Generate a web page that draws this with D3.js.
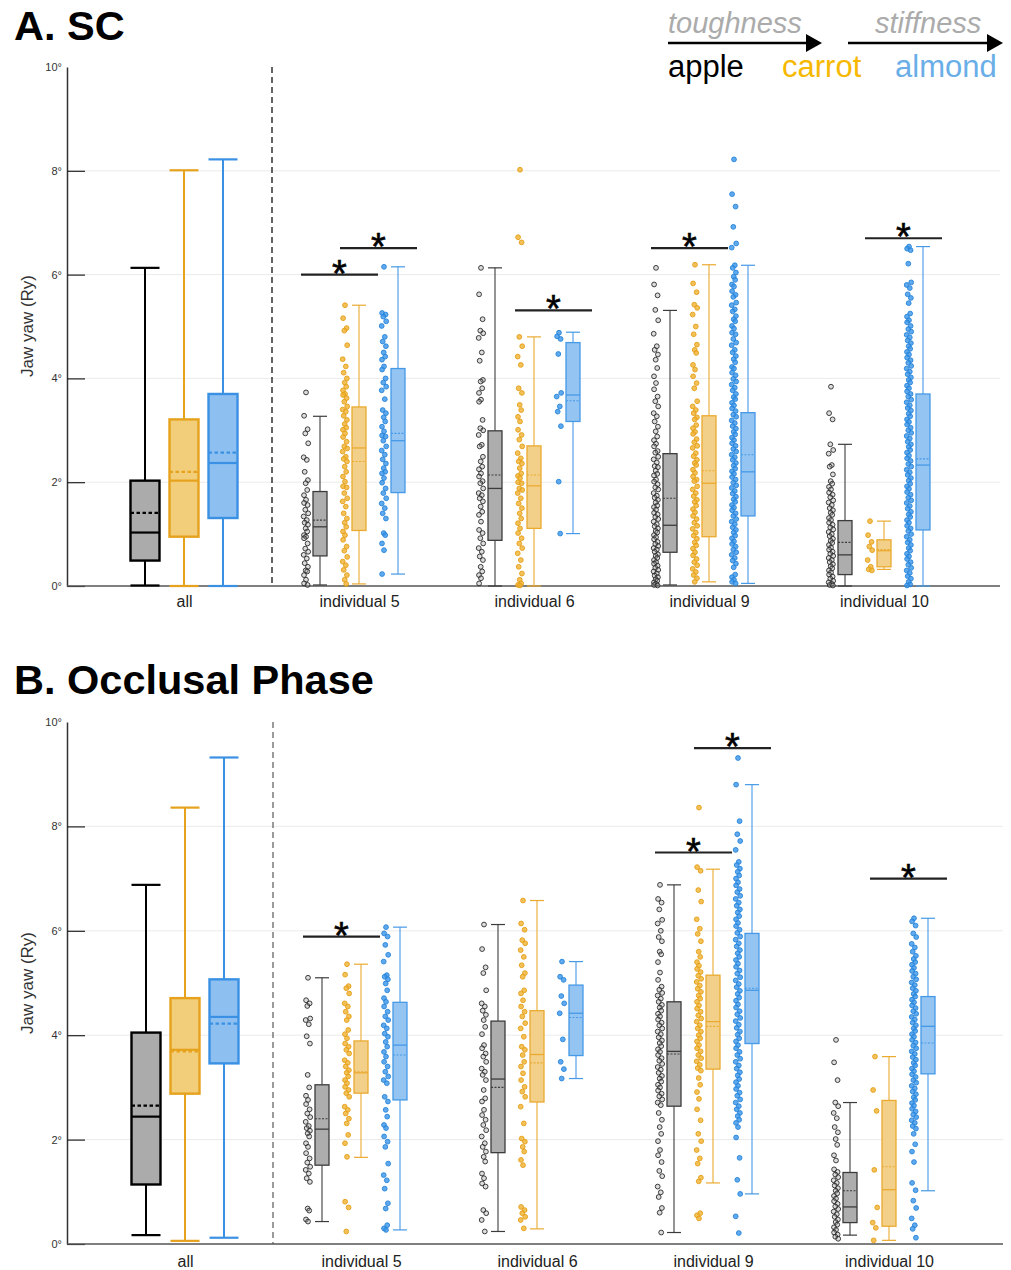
<!DOCTYPE html>
<html><head><meta charset="utf-8">
<script src="https://cdn.jsdelivr.net/npm/d3@7"></script>
<style>
body{margin:0;background:#fff;}
svg{display:block;font-family:"Liberation Sans",Arial,sans-serif;}
</style>
</head><body>
<svg id="chart" width="1011" height="1270"></svg>
<script>
// ---------------- DATA ----------------
const groups = ["all", "individual 5", "individual 6", "individual 9", "individual 10"];
const foods = ["apple", "carrot", "almond"];
const yTickValues = [0, 2, 4, 6, 8, 10];
const yTickLabels = ["0°", "2°", "4°", "6°", "8°", "10°"];
const panelTitles = ["A. SC", "B. Occlusal Phase"];
const yAxisTitle = "Jaw yaw (Ry)";

// box statistics per group: [lower whisker, q1, median, q3, upper whisker, mean]
const boxA_apple  = [[0.01,0.49,1.03,2.03,6.13,1.41],[0.02,0.58,1.14,1.82,3.27,1.27],[0.00,0.88,1.88,2.99,6.13,2.14],[0.02,0.65,1.17,2.55,5.31,1.69],[0.00,0.22,0.60,1.26,2.73,0.84]];
const boxA_carrot = [[0.00,0.95,2.03,3.21,8.01,2.20],[0.04,1.07,2.66,3.45,5.41,2.40],[0.00,1.11,1.93,2.70,4.80,2.14],[0.08,0.95,1.98,3.28,6.19,2.22],[0.32,0.37,0.68,0.89,1.25,0.70]];
const boxA_almond = [[0.00,1.31,2.37,3.70,8.22,2.57],[0.23,1.80,2.80,4.19,6.15,2.94],[1.01,3.17,3.68,4.69,4.89,3.57],[0.05,1.35,2.20,3.34,6.18,2.53],[0.00,1.08,2.33,3.70,6.54,2.45]];

const boxB_apple  = [[0.17,1.14,2.44,4.05,6.88,2.65],[0.43,1.51,2.20,3.05,5.10,2.40],[0.24,1.75,3.16,4.27,6.12,3.00],[0.22,2.64,3.69,4.64,6.88,3.64],[0.17,0.41,0.71,1.37,2.71,1.02]];
const boxB_carrot = [[0.06,2.88,3.72,4.71,8.36,3.69],[1.66,2.89,3.28,3.89,5.36,3.30],[0.29,2.72,3.63,4.47,6.58,3.47],[1.17,3.35,4.26,5.15,7.18,4.17],[0.07,0.34,1.04,2.75,3.59,1.48]];
const boxB_almond = [[0.12,3.46,4.35,5.07,9.32,4.22],[0.27,2.76,3.81,4.63,6.07,3.62],[3.17,3.61,4.42,4.96,5.41,4.34],[0.96,3.84,4.86,5.95,8.80,4.90],[1.02,3.26,4.17,4.74,6.24,3.85]];

// individual observations (degrees)
const dA5_apple = [3.73,3.28,3.02,2.94,2.75,2.48,2.43,2.20,2.04,1.98,1.85,1.75,1.66,1.60,1.56,1.47,1.40,1.34,1.27,1.22,1.18,1.11,1.05,0.98,0.95,0.92,0.82,0.72,0.66,0.60,0.53,0.44,0.37,0.30,0.28,0.21,0.12,0.05,0.02];
const dA5_carrot = [5.41,5.16,4.97,4.92,4.64,4.37,4.23,4.11,4.00,3.92,3.84,3.77,3.70,3.68,3.62,3.55,3.46,3.40,3.36,3.28,3.20,3.12,3.05,3.01,2.94,2.87,2.78,2.69,2.65,2.59,2.49,2.45,2.40,2.30,2.20,2.11,2.01,1.92,1.90,1.79,1.69,1.63,1.53,1.40,1.30,1.22,1.14,1.05,0.98,0.89,0.76,0.68,0.56,0.47,0.40,0.31,0.21,0.12,0.04];
const dA5_almond = [6.15,5.26,5.23,5.19,5.10,5.01,4.80,4.71,4.62,4.50,4.42,4.36,4.23,4.17,4.00,3.92,3.84,3.77,3.60,3.39,3.33,3.25,3.17,3.07,2.98,2.90,2.88,2.80,2.69,2.61,2.53,2.44,2.36,2.27,2.20,2.17,2.08,1.99,1.88,1.79,1.69,1.59,1.50,1.40,1.30,1.02,0.98,0.82,0.69,0.23];
const dA6_apple = [6.13,5.62,5.14,4.92,4.87,4.78,4.50,4.34,3.97,3.94,3.81,3.72,3.59,3.55,3.20,3.04,3.00,2.91,2.72,2.69,2.49,2.40,2.30,2.25,2.17,2.11,2.02,1.98,1.88,1.79,1.75,1.69,1.63,1.53,1.43,1.37,1.24,1.08,1.02,0.92,0.82,0.73,0.66,0.57,0.50,0.37,0.28,0.21,0.15,0.05];
const dA6_carrot = [8.02,6.72,6.62,4.80,4.62,4.42,4.26,3.81,3.72,3.49,3.39,3.26,3.17,3.01,2.91,2.82,2.69,2.56,2.46,2.40,2.36,2.27,2.17,2.12,2.08,2.00,1.98,1.88,1.85,1.79,1.69,1.59,1.50,1.40,1.30,1.21,1.11,1.02,0.92,0.82,0.73,0.63,0.50,0.37,0.24,0.12,0.05,0.02,0.01];
const dA6_almond = [4.88,4.81,4.76,4.47,3.72,3.65,3.46,3.36,3.08,2.01,1.01];
const dA9_apple = [6.13,5.81,5.60,5.32,5.12,4.86,4.62,4.55,4.46,4.36,4.20,4.04,3.91,3.79,3.65,3.56,3.46,3.33,3.27,3.17,3.07,2.98,2.88,2.81,2.74,2.69,2.60,2.57,2.49,2.44,2.38,2.31,2.29,2.22,2.16,2.13,2.05,2.01,1.96,1.90,1.86,1.79,1.74,1.70,1.66,1.61,1.55,1.52,1.47,1.41,1.38,1.33,1.29,1.24,1.19,1.15,1.11,1.06,1.03,0.98,0.94,0.90,0.85,0.81,0.77,0.73,0.70,0.66,0.61,0.58,0.54,0.50,0.46,0.43,0.39,0.35,0.31,0.28,0.24,0.20,0.17,0.13,0.10,0.07,0.04,0.02,0.01];
const dA9_carrot = [6.19,5.83,5.66,5.42,5.36,5.23,5.00,4.85,4.65,4.55,4.49,4.26,4.17,4.04,3.91,3.81,3.56,3.46,3.39,3.33,3.25,3.21,3.10,3.04,2.97,2.93,2.83,2.77,2.70,2.66,2.56,2.50,2.43,2.37,2.33,2.24,2.18,2.11,2.05,2.02,1.92,1.86,1.79,1.73,1.66,1.62,1.55,1.48,1.42,1.35,1.29,1.22,1.16,1.10,1.03,0.97,0.91,0.84,0.78,0.72,0.65,0.59,0.52,0.46,0.40,0.33,0.27,0.21,0.15,0.08];
const dA9_almond = [8.22,7.55,7.31,6.92,6.60,6.52,6.18,6.13,6.04,5.96,5.90,5.81,5.77,5.68,5.61,5.57,5.46,5.41,5.33,5.29,5.20,5.14,5.10,5.01,4.96,4.88,4.85,4.76,4.69,4.64,4.55,4.50,4.43,4.37,4.31,4.22,4.19,4.11,4.06,3.99,3.94,3.88,3.82,3.77,3.70,3.64,3.60,3.53,3.48,3.42,3.37,3.30,3.26,3.19,3.14,3.08,3.03,2.97,2.92,2.86,2.81,2.75,2.70,2.64,2.59,2.53,2.48,2.43,2.37,2.32,2.26,2.21,2.16,2.10,2.05,1.99,1.94,1.89,1.83,1.78,1.72,1.67,1.62,1.56,1.51,1.46,1.40,1.35,1.29,1.24,1.19,1.13,1.08,1.03,0.97,0.92,0.86,0.81,0.76,0.70,0.65,0.60,0.54,0.49,0.43,0.36,0.22,0.17,0.12,0.08,0.05];
const dA10_apple = [3.84,3.33,3.21,2.73,2.62,2.55,2.33,2.30,2.15,2.02,1.97,1.91,1.86,1.80,1.76,1.71,1.65,1.61,1.56,1.50,1.46,1.41,1.37,1.31,1.27,1.22,1.18,1.13,1.09,1.04,1.00,0.96,0.91,0.87,0.83,0.79,0.74,0.70,0.66,0.62,0.58,0.54,0.50,0.46,0.42,0.38,0.34,0.30,0.26,0.22,0.18,0.14,0.10,0.07,0.04,0.02,0.01];
const dA10_carrot = [1.25,0.98,0.85,0.76,0.69,0.50,0.37,0.32,0.30];
const dA10_almond = [6.54,6.50,6.47,6.21,5.85,5.80,5.74,5.62,5.55,5.45,5.25,5.19,5.12,5.08,5.01,4.95,4.90,4.84,4.79,4.73,4.68,4.62,4.57,4.51,4.46,4.40,4.35,4.30,4.24,4.19,4.13,4.08,4.02,3.97,3.92,3.86,3.81,3.75,3.70,3.65,3.59,3.54,3.48,3.43,3.38,3.32,3.27,3.21,3.16,3.11,3.05,3.00,2.95,2.89,2.84,2.78,2.73,2.68,2.62,2.57,2.51,2.46,2.41,2.35,2.30,2.24,2.19,2.14,2.08,2.03,1.97,1.92,1.87,1.81,1.76,1.70,1.65,1.60,1.54,1.49,1.43,1.38,1.33,1.27,1.22,1.16,1.11,1.06,1.00,0.95,0.89,0.84,0.79,0.73,0.68,0.62,0.57,0.52,0.46,0.41,0.35,0.30,0.25,0.19,0.14,0.08,0.03,0.01];

const dB5_apple = [5.10,4.67,4.61,4.56,4.32,4.29,4.21,3.98,3.84,3.24,3.00,2.84,2.76,2.68,2.58,2.50,2.43,2.34,2.26,2.22,2.17,2.12,2.06,1.93,1.86,1.74,1.64,1.56,1.48,1.42,1.35,1.26,1.19,0.68,0.64,0.47,0.43];
const dB5_carrot = [5.36,5.16,4.94,4.90,4.80,4.61,4.55,4.45,4.36,4.29,4.10,4.02,3.94,3.84,3.78,3.72,3.65,3.52,3.47,3.40,3.33,3.28,3.21,3.14,3.08,3.01,2.95,2.89,2.82,2.63,2.57,2.50,2.40,2.31,2.09,1.93,1.67,0.81,0.70,0.24];
const dB5_almond = [6.07,5.95,5.89,5.73,5.54,5.41,5.15,5.12,5.07,4.99,4.86,4.71,4.64,4.55,4.45,4.36,4.29,4.19,4.13,4.03,3.97,3.87,3.78,3.68,3.59,3.49,3.40,3.30,3.21,3.14,3.08,2.82,2.73,2.57,2.44,2.28,2.22,2.06,1.96,1.86,1.54,1.32,1.22,1.06,0.78,0.68,0.36,0.30,0.27];
const dB6_apple = [6.12,5.65,5.30,5.19,4.86,4.61,4.55,4.47,4.39,4.29,4.16,4.02,3.81,3.75,3.65,3.59,3.49,3.36,3.30,3.24,3.14,2.95,2.79,2.73,2.57,2.47,2.38,2.28,2.18,2.06,1.93,1.86,1.77,1.67,1.58,1.35,1.26,1.16,1.10,0.65,0.59,0.46,0.24];
const dB6_carrot = [6.58,6.14,6.02,5.82,5.76,5.63,5.50,5.34,5.19,5.12,4.86,4.80,4.67,4.55,4.45,4.36,4.23,4.13,3.97,3.78,3.72,3.62,3.49,3.40,3.27,3.14,3.01,2.92,2.82,2.63,2.31,2.02,1.96,1.86,1.77,1.61,1.51,0.71,0.65,0.59,0.52,0.46,0.30];
const dB6_almond = [5.41,5.12,5.06,4.75,4.61,4.42,3.92,3.49,3.35,3.17];
const dB9_apple = [6.88,6.61,6.54,6.41,6.21,6.14,6.00,5.88,5.80,5.60,5.55,5.40,5.20,5.06,4.93,4.87,4.81,4.76,4.70,4.64,4.58,4.53,4.47,4.41,4.36,4.30,4.24,4.19,4.13,4.07,4.02,3.96,3.90,3.85,3.79,3.73,3.68,3.62,3.56,3.51,3.45,3.39,3.34,3.28,3.22,3.17,3.11,3.05,3.00,2.94,2.88,2.83,2.77,2.71,2.66,2.51,2.38,2.24,2.11,1.97,1.80,1.70,1.57,1.40,1.30,1.10,0.99,0.90,0.69,0.60,0.22];
const dB9_carrot = [8.36,7.22,7.15,6.78,6.56,6.22,6.04,5.94,5.80,5.60,5.50,5.40,5.33,5.27,5.21,5.14,5.08,5.02,4.95,4.89,4.83,4.76,4.70,4.64,4.57,4.51,4.45,4.38,4.32,4.26,4.19,4.13,4.07,4.00,3.94,3.88,3.81,3.75,3.69,3.62,3.56,3.50,3.43,3.37,3.32,3.18,3.05,2.91,2.78,2.58,2.37,2.11,1.97,1.80,1.64,1.54,1.27,1.20,0.59,0.55,0.49];
const dB9_almond = [9.31,8.80,8.10,7.85,7.72,7.55,7.32,7.26,7.19,7.13,7.06,7.00,6.93,6.87,6.80,6.74,6.67,6.61,6.54,6.48,6.41,6.35,6.28,6.22,6.15,6.09,6.02,5.96,5.89,5.83,5.76,5.70,5.63,5.57,5.50,5.44,5.37,5.31,5.24,5.18,5.11,5.05,4.98,4.92,4.85,4.79,4.72,4.66,4.59,4.53,4.46,4.40,4.33,4.27,4.20,4.14,4.07,4.01,3.94,3.88,3.81,3.75,3.68,3.62,3.55,3.49,3.42,3.36,3.29,3.23,3.16,3.10,3.03,2.97,2.90,2.84,2.77,2.71,2.64,2.58,2.51,2.45,2.38,2.32,2.24,2.04,1.65,1.23,0.96,0.53,0.21];
const dB10_apple = [3.91,3.48,3.14,2.71,2.64,2.51,2.41,2.24,2.14,2.01,1.90,1.70,1.60,1.43,1.38,1.33,1.28,1.22,1.17,1.12,1.07,1.02,0.97,0.92,0.87,0.82,0.77,0.72,0.67,0.62,0.57,0.52,0.47,0.42,0.37,0.32,0.27,0.22,0.18,0.14,0.10];
const dB10_carrot = [3.59,2.95,2.55,1.42,0.70,0.41,0.31,0.07];
const dB10_almond = [6.24,6.18,6.10,5.95,5.88,5.75,5.68,5.60,5.52,5.46,5.40,5.35,5.29,5.23,5.18,5.12,5.07,5.01,4.96,4.90,4.85,4.79,4.74,4.68,4.63,4.57,4.52,4.46,4.41,4.35,4.30,4.24,4.19,4.13,4.08,4.02,3.97,3.91,3.86,3.80,3.75,3.69,3.64,3.58,3.53,3.47,3.42,3.36,3.31,3.25,3.20,3.14,3.09,3.03,2.98,2.92,2.87,2.81,2.76,2.70,2.65,2.59,2.54,2.48,2.43,2.37,2.32,2.26,2.21,2.11,1.91,1.77,1.57,1.17,1.03,0.83,0.69,0.49,0.36,0.29,0.12];

// significance brackets: [group, food from, food to, level (degrees)]
const sigA = [["individual 5","apple","carrot",6.00],["individual 5","carrot","almond",6.51],["individual 6","carrot","almond",5.31],["individual 9","apple","carrot",6.51],["individual 10","carrot","almond",6.70]];
const sigB = [["individual 5","apple","carrot",5.89],["individual 9","apple","carrot",7.50],["individual 9","carrot","almond",9.50],["individual 10","carrot","almond",7.00]];

// legend
const legendFoods = ["apple", "carrot", "almond"];
const legendArrows = ["toughness", "stiffness"];

// ---------------- STYLE ----------------
const col = {
  apple:  {stroke:"#000000", fill:"#ABABAB", iStroke:"#3c3c3c", iFill:"#ADADAD", dFill:"#9a9a9a", dStroke:"#2a2a2a", legend:"#000000"},
  carrot: {stroke:"#E6A21C", fill:"#F2CD7A", iStroke:"#EAAA30", iFill:"#F3D089", dFill:"#EFB22E", dStroke:"#E59F18", legend:"#F6B800"},
  almond: {stroke:"#3A91E4", fill:"#8DC0F1", iStroke:"#4699E6", iFill:"#93C4F2", dFill:"#3894E7", dStroke:"#2684DA", legend:"#6AAEE8"}
};
const jitter = [0,-1.9,1.6,-0.7,2.2,-2.3,0.8,-1.3,1.9,-0.3,1.2,-2.0];

const svg = d3.select("#chart");

const panels = [
  { title: panelTitles[0], titleY: 40, y: d3.scaleLinear([0,10],[586,67]), x: d3.scalePoint(groups,[184,884]),
    xEnd: 1000, dashX: 272, dashColor: "#111", labelPad: 10, yTitleY: 326,
    box: {apple: boxA_apple, carrot: boxA_carrot, almond: boxA_almond},
    dots: {apple: [null,dA5_apple,dA6_apple,dA9_apple,dA10_apple], carrot: [null,dA5_carrot,dA6_carrot,dA9_carrot,dA10_carrot], almond: [null,dA5_almond,dA6_almond,dA9_almond,dA10_almond]},
    sig: sigA },
  { title: panelTitles[1], titleY: 694, y: d3.scaleLinear([0,10],[1244,722]), x: d3.scalePoint(groups,[185,889]),
    xEnd: 1003, dashX: 273, dashColor: "#666", labelPad: 11.5, yTitleY: 983,
    box: {apple: boxB_apple, carrot: boxB_carrot, almond: boxB_almond},
    dots: {apple: [null,dB5_apple,dB6_apple,dB9_apple,dB10_apple], carrot: [null,dB5_carrot,dB6_carrot,dB9_carrot,dB10_carrot], almond: [null,dB5_almond,dB6_almond,dB9_almond,dB10_almond]},
    sig: sigB }
];
const offset = d3.scalePoint(foods, [-39, 39]);

panels.forEach(p => {
  const g = svg.append("g");
  const y = p.y, x = p.x;
  const x0 = 67;

  // title
  g.append("text").attr("x", 14).attr("y", p.titleY).attr("font-size", 41.5).attr("font-weight", "bold").attr("fill", "#000").text(p.title);

  // gridlines
  g.append("g").selectAll("line").data(yTickValues.filter(v => v > 0 && v < 10)).join("line")
    .attr("x1", x0).attr("x2", p.xEnd).attr("y1", d => y(d)).attr("y2", d => y(d))
    .attr("stroke", "#ebebeb").attr("stroke-width", 1);

  // y axis
  const ax = g.append("g").attr("transform", `translate(${x0},0)`)
    .call(d3.axisLeft(y).tickValues(yTickValues).tickFormat((d,i) => yTickLabels[i]).tickSize(-18).tickSizeOuter(0).tickPadding(5));
  ax.select(".domain").attr("stroke", "#333").attr("stroke-width", 1.5);
  ax.selectAll(".tick line").attr("stroke", "#222").attr("stroke-width", 1.2);
  ax.selectAll(".tick").filter(d => d === 10).select("line").remove();
  ax.selectAll(".tick text").attr("font-size", 11).attr("fill", "#333").attr("font-family", '"Liberation Sans",Arial,sans-serif');

  // y title
  g.append("text").attr("transform", `translate(33,${p.yTitleY}) rotate(-90)`).attr("text-anchor", "middle")
    .attr("font-size", 17).attr("fill", "#333").text(yAxisTitle);

  // separator dashed line
  g.append("line").attr("x1", p.dashX).attr("x2", p.dashX).attr("y1", y(10)).attr("y2", y(0))
    .attr("stroke", p.dashColor).attr("stroke-width", 1.3).attr("stroke-dasharray", "6,4");

  // x axis
  const xa = g.append("g").attr("transform", `translate(0,${y(0)})`)
    .call(d3.axisBottom(x).tickSize(0).tickPadding(p.labelPad));
  xa.select(".domain").remove();
  xa.selectAll(".tick text").attr("font-size", 16).attr("fill", "#222").attr("font-family", '"Liberation Sans",Arial,sans-serif');
  g.append("line").attr("x1", x0).attr("x2", p.xEnd).attr("y1", y(0)).attr("y2", y(0)).attr("stroke", "#555").attr("stroke-width", 1.5);

  // boxes
  groups.forEach((grp, gi) => {
    const isAll = gi === 0;
    const w = isAll ? 29 : 14;
    const sw = isAll ? 2.4 : 1.3;
    foods.forEach(f => {
      const s = p.box[f][gi];
      const cx = x(grp) + offset(f);
      const c = col[f];
      const stroke = isAll ? c.stroke : c.iStroke;
      const fill = isAll ? c.fill : c.iFill;
      const bg = g.append("g");
      bg.append("line").attr("x1", cx).attr("x2", cx).attr("y1", y(s[0])).attr("y2", y(s[1])).attr("stroke", stroke).attr("stroke-width", isAll ? 2 : 1.1);
      bg.append("line").attr("x1", cx).attr("x2", cx).attr("y1", y(s[3])).attr("y2", y(s[4])).attr("stroke", stroke).attr("stroke-width", isAll ? 2 : 1.1);
      [s[0], s[4]].forEach(v => bg.append("line").attr("x1", cx - w/2).attr("x2", cx + w/2).attr("y1", y(v)).attr("y2", y(v)).attr("stroke", stroke).attr("stroke-width", isAll ? 2.2 : 1.2));
      bg.append("rect").attr("x", cx - w/2).attr("width", w).attr("y", y(s[3])).attr("height", y(s[1]) - y(s[3]))
        .attr("fill", fill).attr("stroke", stroke).attr("stroke-width", sw);
      bg.append("line").attr("x1", cx - w/2).attr("x2", cx + w/2).attr("y1", y(s[2])).attr("y2", y(s[2])).attr("stroke", stroke).attr("stroke-width", isAll ? 2.2 : 1.3);
      bg.append("line").attr("x1", cx - w/2).attr("x2", cx + w/2).attr("y1", y(s[5])).attr("y2", y(s[5])).attr("stroke", stroke)
        .attr("stroke-width", isAll ? 2.2 : 1.1).attr("stroke-dasharray", isAll ? "3.5,2.5" : "2,1.5");
    });
  });

  // dots
  groups.forEach((grp, gi) => {
    if (gi === 0) return;
    foods.forEach(f => {
      const vals = p.dots[f][gi];
      const cx = x(grp) + offset(f) - 14;
      const c = col[f];
      g.append("g").selectAll("circle").data(vals).join("circle")
        .attr("cx", (d, i) => cx + jitter[i % jitter.length])
        .attr("cy", d => y(d)).attr("r", 2.4)
        .attr("fill", c.dFill).attr("fill-opacity", f === "apple" ? 0.35 : 0.8)
        .attr("stroke", c.dStroke).attr("stroke-width", 1).attr("stroke-opacity", 0.9);
    });
  });

  // significance
  p.sig.forEach(([grp, fa, fb, lvl]) => {
    const xa1 = x(grp) + offset(fa) - 19, xb1 = x(grp) + offset(fb) + 19;
    const yy = y(lvl);
    g.append("line").attr("x1", xa1).attr("x2", xb1).attr("y1", yy).attr("y2", yy).attr("stroke", "#222").attr("stroke-width", 2.2);
    g.append("text").attr("x", (xa1 + xb1) / 2).attr("y", yy + 12).attr("text-anchor", "middle").attr("font-size", 38)
      .attr("fill", "#000").attr("stroke", "#000").attr("stroke-width", 0.6).text("*");
  });
});

// legend
const lg = svg.append("g");
const arrowSpec = [[668, 822, 668], [848, 1003, 875]];
legendArrows.forEach((t, i) => {
  const [xs, xe, tx] = arrowSpec[i];
  lg.append("text").attr("x", tx).attr("y", 33).attr("font-size", 29).attr("font-style", "italic").attr("fill", "#ababab").text(t);
  lg.append("line").attr("x1", xs).attr("x2", xe - 14).attr("y1", 43).attr("y2", 43).attr("stroke", "#000").attr("stroke-width", 2.6);
  lg.append("path").attr("d", `M${xe - 16},34 L${xe},43 L${xe - 16},52 Z`).attr("fill", "#000");
});
const legendX = [668, 782, 895];
legendFoods.forEach((f, i) => {
  lg.append("text").attr("x", legendX[i]).attr("y", 77).attr("font-size", 31).attr("fill", col[f].legend).text(f);
});
</script>
</body></html>
